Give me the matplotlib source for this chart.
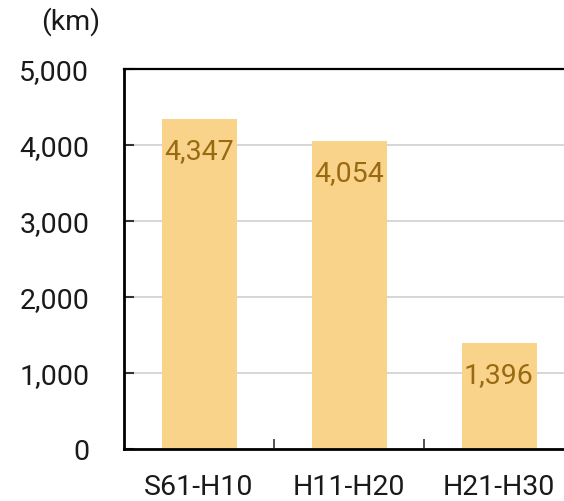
import matplotlib
matplotlib.use("Agg")
import matplotlib.pyplot as plt
from matplotlib.ticker import FuncFormatter, FixedLocator

categories = ["S61-H10", "H11-H20", "H21-H30"]
values = [4347, 4054, 1396]
yticks = [0, 1000, 2000, 3000, 4000, 5000]
unit_label = "(km)"

plt.rcParams['font.family'] = ['Roboto', 'DejaVu Sans']
plt.rcParams['font.weight'] = 'normal'

FS = 20.5

fig = plt.figure(figsize=(5.64, 5.02), dpi=100)
ax = fig.add_axes([124/564, 1-450/502, 450/564, 380/502])

x = list(range(len(categories)))
ax.bar(x, values, width=0.5, color="#F9D38A", zorder=2)
ax.set_xlim(-0.5, len(categories) - 0.5)
ax.set_ylim(0, 5000)

ax.yaxis.set_major_locator(FixedLocator(yticks))
ax.yaxis.set_major_formatter(FuncFormatter(lambda v, p: f"{int(v):,}"))
ax.grid(axis="y", color="#D3D3D3", linewidth=1.3, zorder=0)

ax.set_xticks(x)
ax.set_xticklabels(categories)
ax.tick_params(axis="x", which="major", length=0, pad=17, labelsize=FS, labelcolor="#1a1a1a")
ax.set_xticks([i + 0.5 for i in x[:-1]], minor=True)
ax.tick_params(axis="x", which="minor", direction="in", length=7, width=1.2, color="#333333")
ax.tick_params(axis="y", direction="in", length=7, width=1.5, color="#333333",
               pad=25, labelsize=FS, labelcolor="#1a1a1a")

for s in ["left", "bottom", "top"]:
    ax.spines[s].set_color("black")
ax.spines["left"].set_linewidth(2)
ax.spines["bottom"].set_linewidth(2)
ax.spines["top"].set_linewidth(1.6)
ax.spines["right"].set_visible(False)

for xi, v in zip(x, values):
    ax.annotate(f"{v:,}", (xi, v), xytext=(0, -23), textcoords="offset points",
                ha="center", va="center", fontsize=FS, color="#9A6A12", zorder=3)

fig.text(71/564, 1-22/502, unit_label, ha="center", va="center", fontsize=FS, color="#1a1a1a")

fig.savefig("out.png", dpi=100)
